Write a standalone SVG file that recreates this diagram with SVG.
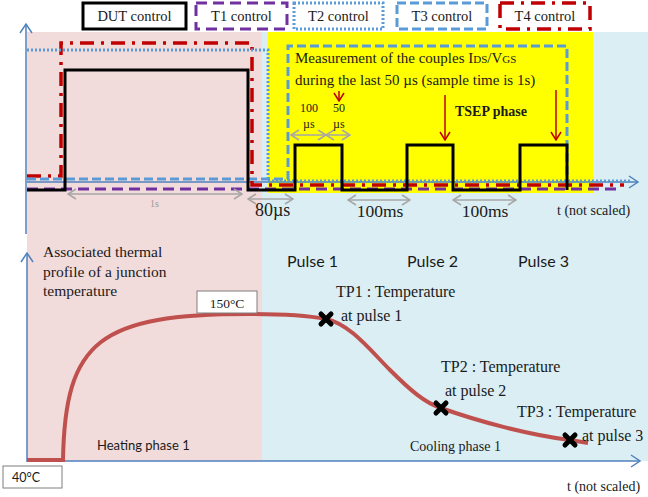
<svg xmlns="http://www.w3.org/2000/svg" width="648" height="497" viewBox="0 0 648 497">
<style>
.serif{font-family:"Liberation Serif","Times New Roman",serif;fill:#1a1a1a}
.sans{font-family:Lato,"Liberation Sans",sans-serif;fill:#1a1a1a}
.dut{fill:none;stroke:#000;stroke-width:3}
.t1{fill:none;stroke:#7030a0;stroke-width:3;stroke-dasharray:11 6}
.t2{fill:none;stroke:#5b9bd5;stroke-width:3;stroke-dasharray:2 2}
.t3{fill:none;stroke:#5b9bd5;stroke-width:3;stroke-dasharray:9 4}
.t4{fill:none;stroke:#c00000;stroke-width:3.5;stroke-dasharray:14 7 3 7}
.axis{fill:none;stroke:#4f81bd;stroke-width:1.5}
.gray{fill:none;stroke:#a6a6a6;stroke-width:1.5;marker-start:url(#ag);marker-end:url(#ag)}
.red{fill:none;stroke:#c00000;stroke-width:1.5;marker-end:url(#ar)}
.cross{stroke:#000;stroke-width:5;stroke-linecap:round}
</style>
<defs>
<marker id="ab" markerWidth="12" markerHeight="14" refX="10" refY="7" orient="auto" markerUnits="userSpaceOnUse"><path d="M1,1 L10,7 L1,13" fill="none" stroke="#4f81bd" stroke-width="1.5"/></marker>
<marker id="ag" markerWidth="10" markerHeight="12" refX="9" refY="6" orient="auto-start-reverse" markerUnits="userSpaceOnUse"><path d="M1,1 L9,6 L1,11" fill="none" stroke="#a6a6a6" stroke-width="1.5"/></marker>
<marker id="ar" markerWidth="10" markerHeight="12" refX="9" refY="6" orient="auto" markerUnits="userSpaceOnUse"><path d="M1,1 L9,6 L1,11" fill="none" stroke="#c00000" stroke-width="1.5"/></marker>
</defs>
<rect width="648" height="497" fill="#fff"/>
<g id="backgrounds">
<rect x="27" y="32" width="235" height="429" fill="#f2dcdb"/>
<rect x="262" y="32" width="386" height="429" fill="#daeef3"/>
<rect x="268" y="32" width="325" height="161" fill="#ffff00"/>
</g>
<g id="legend">
<g id="leg-dut"><rect x="83" y="3" width="103" height="26" fill="#fff" class="dut"/><text x="134.5" y="21" class="serif" font-size="14.5" text-anchor="middle">DUT control</text></g>
<g id="leg-t1"><rect x="196" y="3" width="91" height="26" fill="#fff" class="t1"/><text x="241.5" y="21" class="serif" font-size="14.5" text-anchor="middle">T1 control</text></g>
<g id="leg-t2"><rect x="294" y="3" width="89" height="26" fill="#fff" class="t2"/><text x="338.5" y="21" class="serif" font-size="14.5" text-anchor="middle">T2 control</text></g>
<g id="leg-t3"><rect x="397" y="3" width="90" height="26" fill="#fff" class="t3"/><text x="442" y="21" class="serif" font-size="14.5" text-anchor="middle">T3 control</text></g>
<g id="leg-t4"><rect x="500" y="3" width="90" height="26" fill="#fff" class="t4"/><text x="545" y="21" class="serif" font-size="14.5" text-anchor="middle">T4 control</text></g>
</g>
<g id="connectors">
<path class="axis" d="M26,234 V24" marker-end="url(#ab)"/>
<path class="axis" d="M27,182 H638" marker-end="url(#ab)"/>
<path class="axis" d="M27,462 V253" marker-end="url(#ab)"/>
<path class="axis" d="M27,461 H640" marker-end="url(#ab)"/>
<path class="t4" d="M27,176 H61 V43 H252 V185 H624"/>
<path class="t2" d="M27,50 H268 V181 H632"/>
<path class="t3" d="M27,179 H288 V46 H567 V179"/>
<path class="t1" d="M27,189 H622"/>
<path class="dut" d="M27,190 H65 V70 H248 V190 H295 V145 H342 V190 H407 V145 H453 V190 H520 V145 H567 V190"/>
<path class="gray" d="M68,194 H242"/>
<path class="gray" d="M248,199 H293"/>
<path class="gray" d="M348,200 H410"/>
<path class="gray" d="M453,200 H516"/>
<path class="gray" d="M291,135 H326"/>
<path class="gray" d="M326,135 H350"/>
<path class="red" d="M339,91 V101"/>
<path class="red" d="M445,95 V140"/>
<path class="red" d="M556,90 V140"/>
<path d="M27,460 H63 C65,340 100,314 250,314 C280,314 310,316 326,319 C350,324 370,350 390,370 C410,390 425,403 441,408 C480,422 530,435 570,440 L588,443" fill="none" stroke="#c0504d" stroke-width="4"/>
</g>
<g id="upper-labels">
<text x="295" y="63" class="serif" font-size="15">Measurement of the couples I<tspan font-size="11">DS</tspan>/V<tspan font-size="11">GS</tspan></text>
<text x="295" y="85" class="serif" font-size="15">during the last 50 µs (sample time is 1s)</text>
<text x="300" y="112" class="serif" font-size="12">100</text>
<text x="303" y="128" class="serif" font-size="12">µs</text>
<text x="333" y="112" class="serif" font-size="12">50</text>
<text x="333" y="128" class="serif" font-size="12">µs</text>
<text x="455" y="116" class="serif" font-size="14" font-weight="bold">TSEP phase</text>
<text x="150" y="207" class="serif" font-size="10" style="fill:#999">1s</text>
<text x="255" y="216" class="serif" font-size="18">80µs</text>
<text x="380" y="217" class="serif" font-size="17.5" text-anchor="middle">100ms</text>
<text x="485" y="217" class="serif" font-size="17.5" text-anchor="middle">100ms</text>
<text x="557" y="215" class="serif" font-size="14">t (not scaled)</text>
</g>
<g id="lower-labels">
<text class="serif" font-size="15.5"><tspan x="43" y="257">Associated thermal</tspan><tspan x="43" y="277">profile of a junction</tspan><tspan x="43" y="296">temperature</tspan></text>
<text x="287" y="267" class="sans" font-size="16">Pulse 1</text>
<text x="407" y="267" class="sans" font-size="16">Pulse 2</text>
<text x="518" y="267" class="sans" font-size="16">Pulse 3</text>
<g id="box150"><rect x="197" y="291" width="60" height="22" fill="#fff" stroke="#7f7f7f" stroke-width="1"/><text x="227" y="308" class="serif" font-size="13.5" text-anchor="middle">150°C</text></g>
<g id="box40"><rect x="3" y="466" width="59" height="22" fill="#fff" stroke="#7f7f7f" stroke-width="1"/><text x="12" y="482" class="sans" font-size="12.5">40°C</text></g>
<text x="97" y="450" class="sans" font-size="13">Heating phase 1</text>
<text x="410" y="451" class="serif" font-size="14">Cooling phase 1</text>
<text x="336" y="297" class="serif" font-size="16">TP1 : Temperature</text>
<text x="341" y="321" class="serif" font-size="16">at pulse 1</text>
<text x="441" y="372" class="serif" font-size="16">TP2 : Temperature</text>
<text x="445" y="396" class="serif" font-size="16">at pulse 2</text>
<text x="517" y="417" class="serif" font-size="16">TP3 : Temperature</text>
<text x="582" y="441" class="serif" font-size="16">at pulse 3</text>
<text x="567" y="491" class="serif" font-size="14">t (not scaled)</text>
</g>
<g id="markers">
<path class="cross" d="M321,314 L331,324 M331,314 L321,324"/>
<path class="cross" d="M436,403 L446,413 M446,403 L436,413"/>
<path class="cross" d="M565,435 L575,445 M575,435 L565,445"/>
</g>
</svg>
